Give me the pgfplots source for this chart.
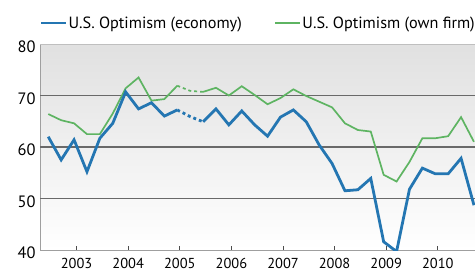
\documentclass[border=0pt]{standalone}
\usepackage{pgfplots}
\pgfplotsset{compat=1.18}
\usepackage{fontspec}
\setmainfont{PT Sans}
\definecolor{cblue}{RGB}{36,118,178}
\definecolor{cgreen}{RGB}{94,180,98}
\definecolor{cgrid}{RGB}{105,105,105}
\begin{document}
\begin{tikzpicture}
\begin{axis}[name=ax, scale only axis, width=435bp, height=206bp,
  xmin=2002.29, xmax=2010.72, ymin=40, ymax=80,
  axis x line*=bottom, axis y line*=left,
  axis line style={draw=gray!75, line width=0.8pt},
  ytick={40,50,60,70,80}, ytick style={draw=none},
  yticklabel style={font=\fontsize{16.5}{16.5}\selectfont, xshift=-1bp, yshift=-3bp},
  xtick={2002,...,2011},
  xticklabels={2002,2003,2004,2005,2006,2007,2008,2009,2010,2011},
  x tick label style={font=\fontsize{14.5}{14.5}\selectfont, yshift=-5bp},
  minor x tick num=3, tick align=inside,
  major tick length=4.5bp, minor tick length=4.5bp,
  every tick/.style={draw=black!70, line width=0.8pt},
  every minor tick/.style={draw=black!70, line width=0.8pt},
  /pgf/number format/assume math mode=true,
  axis background/.style={shade, top color=black!12, bottom color=white},
  clip=true,
  legend columns=2,
  legend style={draw=none, fill=none, at={(0,1)}, anchor=south west,
    inner sep=0pt, xshift=0bp, yshift=13bp, font=\fontsize{16.3}{16.3}\selectfont,
    nodes={inner xsep=1.5bp, inner ysep=1bp},
    /tikz/every even column/.append style={column sep=31bp}},
  legend image code/.code={\draw[#1] (0bp,0bp) -- (25bp,0bp);},
]
\addlegendimage{draw=cblue, line width=1.9pt}
\addlegendentry{U.S. Optimism (economy)}
\addlegendimage{draw=cgreen, line width=1.7pt}
\addlegendentry{U.S. Optimism (own firm)}

\draw[cgrid, line width=1.1pt] (axis cs:2002.29,50) -- (axis cs:2010.72,50);
\draw[cgrid, line width=1.1pt] (axis cs:2002.29,60) -- (axis cs:2010.72,60);
\draw[cgrid, line width=1.1pt] (axis cs:2002.29,70) -- (axis cs:2010.72,70);
\draw[black!25, line width=1.1pt] (axis cs:2002.29,80) -- (axis cs:2010.72,80);

% own firm (green)
\addplot[cgreen, line width=1.7pt, forget plot] coordinates {
(2002.45,66.4)(2002.70,65.2)(2002.95,64.6)(2003.20,62.5)(2003.45,62.5)
(2003.70,66.5)(2003.95,71.4)(2004.20,73.5)(2004.45,69.0)(2004.70,69.3)
(2004.95,71.9)};
\addplot[cgreen, line width=1.7pt, dashed, forget plot] coordinates {
(2004.95,71.9)(2005.20,70.9)(2005.45,70.7)};
\addplot[cgreen, line width=1.7pt, forget plot] coordinates {
(2005.45,70.7)(2005.70,71.5)(2005.95,70.0)(2006.20,71.8)(2006.45,70.1)
(2006.70,68.3)(2006.95,69.5)(2007.20,71.2)(2007.45,69.9)(2007.70,68.8)
(2007.95,67.7)(2008.20,64.6)(2008.45,63.3)(2008.70,63.0)(2008.95,54.6)
(2009.20,53.3)(2009.45,57.1)(2009.70,61.7)(2009.95,61.7)(2010.20,62.1)
(2010.45,65.8)(2010.70,61.0)};

% economy (blue)
\addplot[cblue, line width=2.8pt, forget plot] coordinates {
(2002.45,62.0)(2002.70,57.5)(2002.95,61.4)(2003.20,55.2)(2003.45,61.7)
(2003.70,64.6)(2003.95,70.7)(2004.20,67.4)(2004.45,68.6)(2004.70,66.0)
(2004.95,67.2)};
\addplot[cblue, line width=2.8pt, dashed, forget plot] coordinates {
(2004.95,67.2)(2005.20,65.9)(2005.45,64.9)};
\addplot[cblue, line width=2.8pt, forget plot] coordinates {
(2005.45,64.9)(2005.70,67.4)(2005.95,64.3)(2006.20,67.0)(2006.45,64.3)
(2006.70,62.1)(2006.95,65.8)(2007.20,67.2)(2007.45,64.9)(2007.70,60.4)
(2007.95,56.8)(2008.20,51.5)(2008.45,51.7)(2008.70,53.9)(2008.95,41.6)
(2009.20,39.7)(2009.45,51.8)(2009.70,55.9)(2009.95,54.8)(2010.20,54.8)
(2010.45,57.8)(2010.70,48.7)};
\end{axis}
\pgfresetboundingbox
\path ([xshift=-40bp,yshift=-25bp]ax.south west) rectangle ([yshift=44bp]ax.north east);
\end{tikzpicture}
\end{document}
